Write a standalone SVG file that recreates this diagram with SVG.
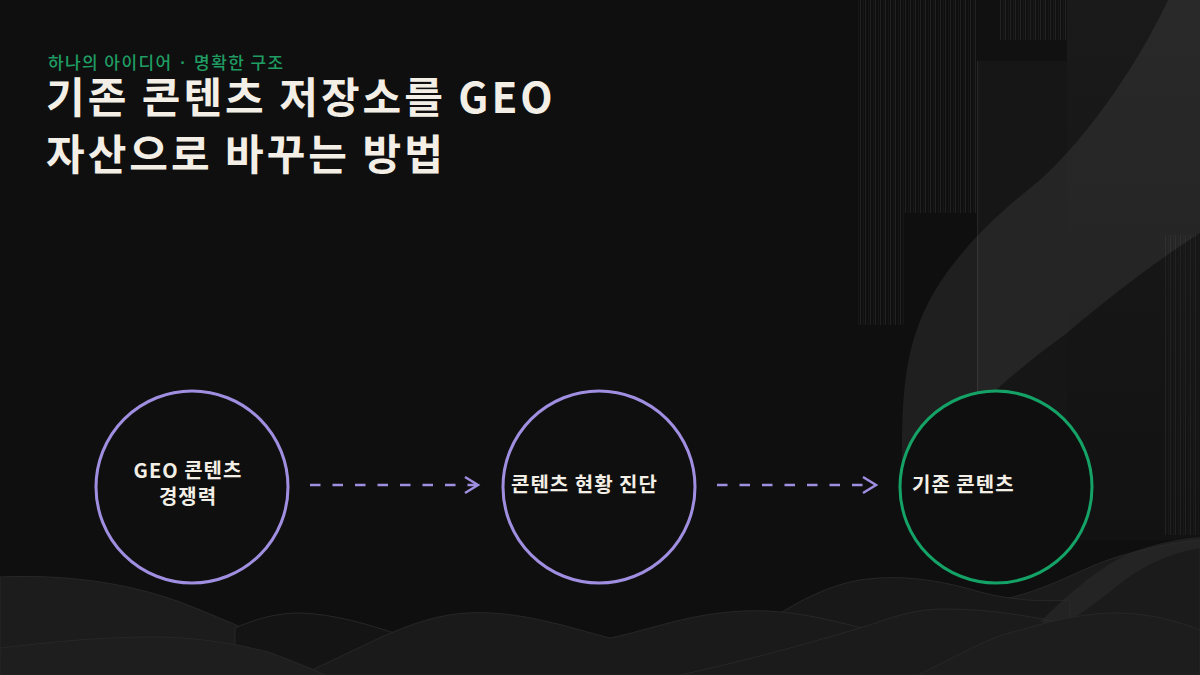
<svg xmlns="http://www.w3.org/2000/svg" width="1200" height="675" viewBox="0 0 1200 675">
<defs>
<style>
.title{font-family:"Noto Sans CJK KR","Noto Sans",sans-serif;font-weight:700;font-size:42px;letter-spacing:3px;fill:#f3efe6}
.sub{font-family:"Noto Sans CJK KR","Noto Sans",sans-serif;font-weight:500;font-size:17px;letter-spacing:1.4px;fill:#1f9d63}
.lbl{font-family:"Noto Sans CJK KR","Noto Sans",sans-serif;font-weight:700;font-size:20px;letter-spacing:1px;fill:#f3efe6}
.ring{fill:#0f0f0f;stroke-width:3}
.purple{stroke:#a08ee0}
.green{stroke:#14a266}
.conn{stroke:#a08ee0;stroke-width:2.5;fill:none}
.dash{stroke-dasharray:10.5 12}
.hill{stroke:#272727;stroke-width:1}
</style>
<pattern id="stripes" width="5" height="10" patternUnits="userSpaceOnUse">
<rect x="0" y="0" width="1" height="10" fill="#222222"/>
<rect x="3" y="0" width="0.6" height="10" fill="#1c1c1c"/>
</pattern>
<linearGradient id="fadeDown" x1="0" y1="0" x2="0" y2="1">
<stop offset="0" stop-color="#1a1a1a"/>
<stop offset="1" stop-color="#121212"/>
</linearGradient>
</defs>
<rect width="1200" height="675" fill="#0f0f0f"/>

<g id="decor-right">
<rect x="1067" y="0" width="133" height="540" fill="url(#fadeDown)"/>
<rect x="857" y="0" width="48" height="325" fill="url(#stripes)"/>
<rect x="905" y="0" width="72" height="213" fill="url(#stripes)"/>
<rect x="977" y="0" width="90" height="61" fill="#111111"/>
<rect x="1000" y="0" width="67" height="40" fill="url(#stripes)"/>
<rect x="977" y="61" width="90" height="380" fill="#161616"/>
<rect x="977" y="61" width="1.2" height="380" fill="#262626"/>
<rect x="1165" y="235" width="35" height="300" fill="url(#stripes)"/>
<path d="M1168,0 L1200,0 L1200,233 C1150,265 1100,305 1067,333 C1030,360 1000,385 975,410 C950,440 925,480 905,520 C900,450 900,380 915,335 C935,270 990,220 1040,180 C1090,135 1140,60 1168,0 Z" fill="#ffffff" fill-opacity="0.065"/>
</g>

<g id="hills">
<path class="hill" d="M1000,675 L1000,600 C1050,590 1080,568 1120,556 C1160,545 1185,541 1200,540 L1200,675 Z" fill="#1b1b1b"/>
<path class="hill" d="M700,675 C740,640 800,590 860,580 C900,574 940,580 980,592 C1010,600 1040,602 1070,600 L1070,675 Z" fill="#181818"/>
<path class="hill" d="M0,675 L0,577 C70,574 130,584 180,602 C240,625 300,655 360,675 Z" fill="#1c1c1c"/>
<path class="hill" d="M235,675 L235,628 C260,617 280,613 300,613 C335,614 370,625 400,635 L400,675 Z" fill="#141414"/>
<path class="hill" d="M300,675 C360,650 410,616 467,613 C520,610 570,628 610,638 C650,630 690,613 745,611 C790,609 830,620 870,630 L870,675 Z" fill="#1a1a1a"/>
<path class="hill" d="M680,675 C750,660 820,640 870,625 C900,614 920,609 944,609 C990,609 1020,615 1060,622 L1060,675 Z" fill="#1b1b1b"/>
<path d="M1040,622 C1070,592 1100,567 1130,553 C1160,542 1185,538 1200,537 L1200,548 C1170,553 1140,566 1112,590 C1092,606 1072,620 1060,626 Z" fill="#2c2c2c" fill-opacity="0.6"/>
<path class="hill" d="M918,675 C960,655 990,636 1021,630 C1060,618 1090,613 1117,613 C1150,613 1180,622 1200,630 L1200,675 Z" fill="#1d1d1d"/>
<path class="hill" d="M0,675 L0,648 C50,642 100,637 153,637 C200,637 240,645 268,652 C290,660 310,668 325,675 Z" fill="#1e1e1e"/>
</g>

<g id="header">
<text class="sub" x="48" y="69">하나의 아이디어 · 명확한 구조</text>
<text class="title" x="46" y="113">기존 콘텐츠 저장소를 GEO</text>
<text class="title" x="46" y="170">자산으로 바꾸는 방법</text>
</g>

<g id="connectors">
<line class="conn dash" x1="310" y1="485" x2="476" y2="485"/>
<polyline class="conn" points="465,477 478,485 465,493"/>
<line class="conn dash" x1="717" y1="485" x2="874" y2="485"/>
<polyline class="conn" points="863,477 876,485 863,493"/>
</g>

<g id="node-geo">
<circle class="ring purple" cx="192" cy="487" r="96"/>
<text class="lbl" x="188" y="478" text-anchor="middle">GEO 콘텐츠</text>
<text class="lbl" x="188" y="504" text-anchor="middle">경쟁력</text>
</g>

<g id="node-diagnosis">
<circle class="ring purple" cx="599" cy="487" r="96"/>
<text class="lbl" x="511" y="492">콘텐츠 현황 진단</text>
</g>

<g id="node-existing">
<circle class="ring green" cx="996" cy="487" r="96"/>
<text class="lbl" x="912" y="492">기존 콘텐츠</text>
</g>
</svg>
